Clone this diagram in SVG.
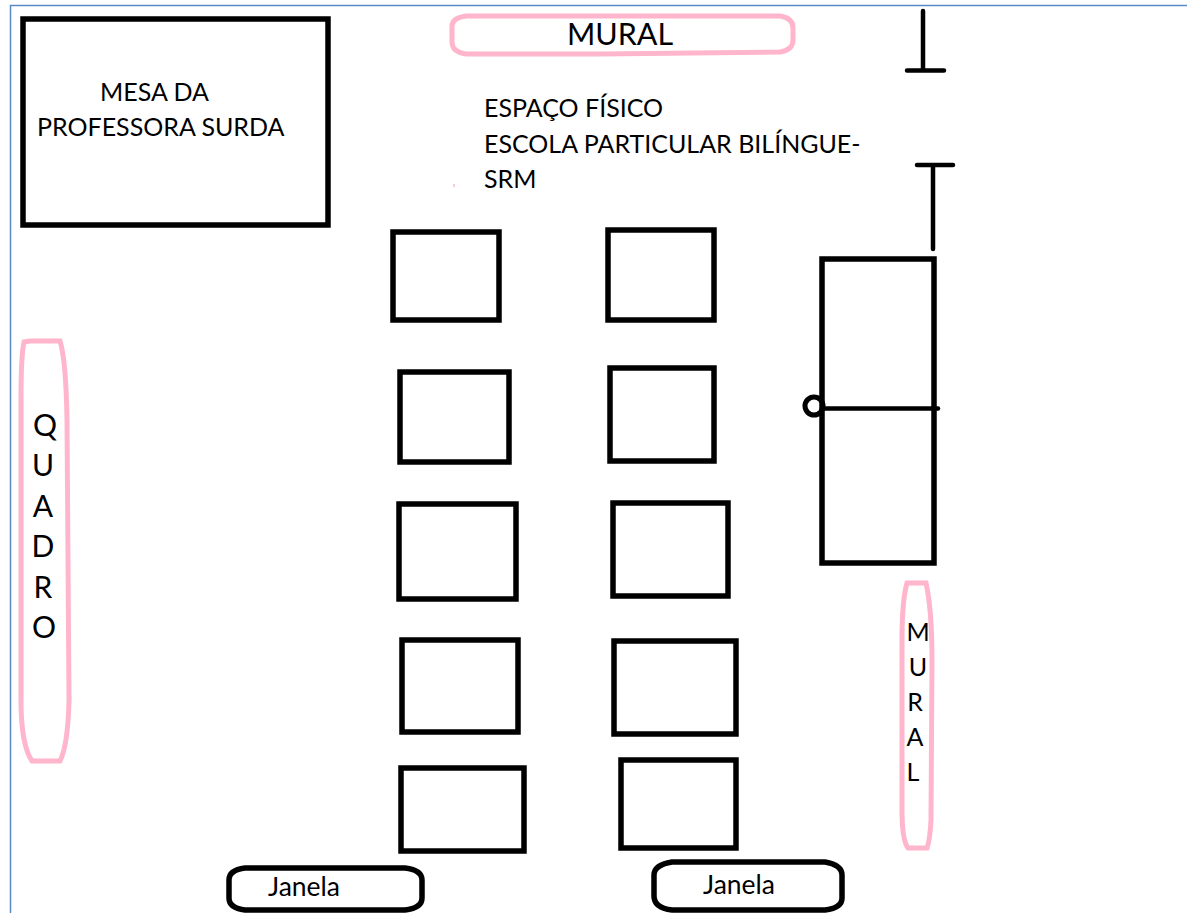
<svg xmlns="http://www.w3.org/2000/svg" width="1187" height="913" viewBox="0 0 1187 913">
<style>
text{font-family:"Lato","Open Sans","Liberation Sans",sans-serif;fill:#000}
.t{font-size:25px}
.j{font-size:26.500px}
.b{fill:#fff;stroke:#000;stroke-width:5.500}
.l{fill:none;stroke:#000;stroke-width:4.500;stroke-linecap:round}
.p{fill:#fff;stroke:#ffb6cc;stroke-width:5}
.k{fill:#fff;stroke:#000;stroke-width:5.500}
.c{text-anchor:middle}
.q{font-size:30px}
</style>
<rect width="1187" height="913" fill="#fff"/>
<path d="M10.500 913V5.500H1187" fill="none" stroke="#5b8ac6" stroke-width="1.500"/>
<g id="mesa"><rect class="b" x="23" y="19" width="305" height="206"/>
<text class="t" x="100" y="101">MESA DA</text><text class="t" x="37" y="136">PROFESSORA SURDA</text></g>
<g id="mural-top"><path class="p" d="M466 16H780Q793 18 793 28V40Q793 50 780 52L600 54H466Q452 52 452 42V26Q452 18 466 16Z"/>
<text x="620" y="45" font-size="30.500" class="c">MURAL</text></g>
<g id="titulo"><text class="t" x="484" y="117">ESPAÇO FÍSICO</text><text class="t" x="484" y="153">ESCOLA PARTICULAR BILÍNGUE-</text><text class="t" x="484" y="188">SRM</text>
<rect x="453" y="184" width="2" height="3" fill="#ffc8d8"/></g>
<g id="porta-marcas"><path class="l" d="M923 11V70M907 70.500H944M933 165V249M917 165H953"/></g>
<g id="porta"><rect class="b" x="822" y="259" width="112" height="304"/>
<circle cx="814" cy="406" r="9" fill="none" stroke="#000" stroke-width="5"/>
<path class="l" d="M824 408.500H938"/></g>
<g id="mesa-1"><rect class="b" x="393" y="232" width="106" height="88"/></g>
<g id="mesa-2"><rect class="b" x="608" y="230" width="106" height="90"/></g>
<g id="mesa-3"><rect class="b" x="400" y="372" width="109" height="90"/></g>
<g id="mesa-4"><rect class="b" x="610" y="368" width="104" height="93"/></g>
<g id="mesa-5"><rect class="b" x="399" y="504" width="117" height="95"/></g>
<g id="mesa-6"><rect class="b" x="613" y="503" width="115" height="93"/></g>
<g id="mesa-7"><rect class="b" x="402" y="640" width="116" height="92"/></g>
<g id="mesa-8"><rect class="b" x="614" y="641" width="122" height="93"/></g>
<g id="mesa-9"><rect class="b" x="401" y="768" width="123" height="83"/></g>
<g id="mesa-10"><rect class="b" x="621" y="760" width="115" height="88"/></g>
<g id="quadro"><path class="p" d="M30 341H60Q66 360 67 420L69 700Q68 745 60 761H32Q21 745 21 700V400Q21 355 24 342Z"/>
<text class="c q" x="45" y="436">Q</text><text class="c q" x="43" y="476">U</text><text class="c q" x="43" y="517">A</text><text class="c q" x="43" y="557">D</text><text class="c q" x="43" y="598">R</text><text class="c q" x="44" y="638">O</text></g>
<g id="mural-dir"><path class="p" d="M907 583H926Q932 610 932 660L931 820Q930 840 927 848H908Q902 840 902 810V640Q902 600 907 583Z"/>
<text class="c t" x="918" y="641">M</text><text class="c t" x="918" y="676">U</text><text class="c t" x="915" y="711">R</text><text class="c t" x="915" y="746">A</text><text class="c t" x="913" y="781">L</text></g>
<g id="janela-1"><path class="k" d="M245 868H405Q422 870 422 880V898Q422 908 405 910H245Q229 908 229 898V880Q229 870 245 868Z"/>
<text class="j" x="268" y="896">Janela</text></g>
<g id="janela-2"><path class="k" d="M672 862H825Q842 865 842 875V898Q842 908 825 910H672Q654 908 654 896V875Q654 865 672 862Z"/>
<text class="j" x="703" y="894">Janela</text></g>
</svg>
